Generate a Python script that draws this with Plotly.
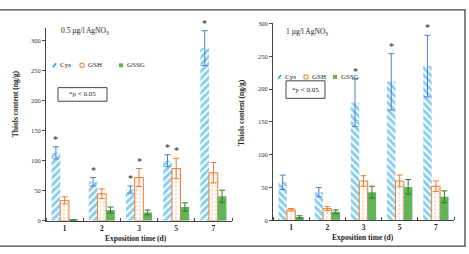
import plotly.graph_objects as go

days = ["1", "2", "3", "5", "7"]
series = ["Cys", "GSH", "GSSG"]

# Left panel: 0.5 ug/l AgNO3
left_cys = [113, 65, 52, 100, 287]
left_cys_err = [10, 7, 6, 10, 29]
left_gsh = [34, 45, 72, 87, 80]
left_gsh_err = [6, 8, 15, 17, 17]
left_gssg = [1, 18, 14, 23, 41]
left_gssg_err = [0.5, 5, 4, 7, 10]
left_sig_cys = [1, 1, 1, 1, 1]
left_sig_gsh = [0, 0, 1, 1, 0]
left_sig_gssg = [0, 0, 0, 0, 0]

# Right panel: 1 ug/l AgNO3
right_cys = [58, 43, 179, 211, 235]
right_cys_err = [11, 7, 36, 43, 47]
right_gsh = [16, 18, 60, 60, 52]
right_gsh_err = [2, 3, 8, 9, 8]
right_gssg = [5, 13, 43, 51, 36]
right_gssg_err = [2, 3, 9, 11, 9]
right_sig_cys = [0, 0, 1, 1, 1]
right_sig_gsh = [0, 0, 0, 0, 0]
right_sig_gssg = [0, 0, 0, 0, 0]

W, H = 469, 254
FONT = "Liberation Serif"
CYS_C = "#149FDC"
CYS_ERR = "#4F7FD6"
GSH_C = "#ED7D31"
GSH_DOT = "#F09A6E"
GSSG_C = "#62B35A"
GSSG_ERR = "#2F7A33"
BARGAP = 0.3


def px(x):
    return x / W


def py(y):
    return 1 - y / H


fig = go.Figure()
xs = list(range(len(days)))

panels = [
    dict(xa="x", ya="y", cys=left_cys, cyse=left_cys_err, gsh=left_gsh, gshe=left_gsh_err,
         gssg=left_gssg, gssge=left_gssg_err, hatch="/",
         sig=[left_sig_cys, left_sig_gsh, left_sig_gssg]),
    dict(xa="x2", ya="y2", cys=right_cys, cyse=right_cys_err, gsh=right_gsh, gshe=right_gsh_err,
         gssg=right_gssg, gssge=right_gssg_err, hatch="\\",
         sig=[right_sig_cys, right_sig_gsh, right_sig_gssg]),
]

for p in panels:
    fig.add_trace(go.Bar(
        x=xs, y=p["cys"], name="Cys", xaxis=p["xa"], yaxis=p["ya"], showlegend=False,
        marker=dict(color="white", line=dict(width=0),
                    pattern=dict(shape=p["hatch"], fgcolor=CYS_C, bgcolor="white",
                                 size=5, solidity=0.6)),
        error_y=dict(type="data", array=p["cyse"], color=CYS_ERR, thickness=1, width=3),
    ))
    fig.add_trace(go.Bar(
        x=xs, y=p["gsh"], name="GSH", xaxis=p["xa"], yaxis=p["ya"], showlegend=False,
        marker=dict(color="white", line=dict(width=1, color=GSH_C),
                    pattern=dict(shape=".", fgcolor=GSH_DOT, bgcolor="white",
                                 size=4, solidity=0.2)),
        error_y=dict(type="data", array=p["gshe"], color=GSH_C, thickness=1, width=3),
    ))
    fig.add_trace(go.Bar(
        x=xs, y=p["gssg"], name="GSSG", xaxis=p["xa"], yaxis=p["ya"], showlegend=False,
        marker=dict(color=GSSG_C, line=dict(width=0)),
        error_y=dict(type="data", array=p["gssge"], color=GSSG_ERR, thickness=1, width=3),
    ))

annotations = []
# significance asterisks
barw = (1 - BARGAP) / 3
for p in panels:
    vals = [(p["cys"], p["cyse"]), (p["gsh"], p["gshe"]), (p["gssg"], p["gssge"])]
    for k, (v, e) in enumerate(vals):
        for i in xs:
            if p["sig"][k][i]:
                annotations.append(dict(
                    x=i + (k - 1) * barw, y=v[i] + e[i], xref=p["xa"], yref=p["ya"],
                    text="*", showarrow=False, yanchor="bottom", yshift=0,
                    font=dict(family=FONT, size=10, color="#222")))

tick_font = dict(family=FONT, size=6.5, color="#333")
xtick_font = dict(family=FONT, size=7.5, color="#222")

common_x = dict(range=[-0.5, 4.5], tickvals=xs, ticktext=["<b>%s</b>" % d for d in days],
                tickfont=xtick_font, ticks="", showline=True, linecolor="#444", linewidth=1,
                showgrid=False, zeroline=False,
                minor=dict(tickvals=[i - 0.5 for i in xs] + [4.5], ticks="inside",
                           ticklen=3, tickcolor="#444", showgrid=False))
common_y = dict(showline=True, linecolor="#444", linewidth=1, showgrid=False, zeroline=False,
                ticks="outside", ticklen=3, tickcolor="#444", tickfont=tick_font,
                tickvals=[0, 50, 100, 150, 200, 250, 300])

fig.update_layout(
    width=W, height=H, margin=dict(l=0, r=0, t=0, b=0),
    paper_bgcolor="white", plot_bgcolor="white",
    barmode="group", bargap=BARGAP, bargroupgap=0,
    xaxis=dict(domain=[px(46), px(232)], anchor="y", **common_x),
    yaxis=dict(domain=[py(223), py(25)], range=[0, 320], anchor="x", **common_y),
    xaxis2=dict(domain=[px(273), px(454)], anchor="y2", **common_x),
    yaxis2=dict(domain=[py(222.5), py(20)], range=[0, 300], anchor="x2", **common_y),
)


def ann(x, y, text, size=7.5, bold=False, angle=0, xanchor="center", yanchor="middle"):
    t = "<b>%s</b>" % text if bold else text
    annotations.append(dict(x=px(x), y=py(y), xref="paper", yref="paper", text=t,
                            showarrow=False, textangle=angle, xanchor=xanchor, yanchor=yanchor,
                            font=dict(family=FONT, size=size, color="#222")))


ann(59, 28, "0.5 µg/l AgNO<sub>3</sub>", xanchor="left")
ann(284, 29, "1 µg/l AgNO<sub>3</sub>", xanchor="left")
ann(15, 103, "Thiols content (ng/g)", bold=True, angle=-90)
ann(242, 112, "Thiols content (ng/g)", bold=True, angle=-90)
ann(136, 241, "Exposition time (d)", bold=True)
ann(363, 240, "Exposition time (d)", bold=True)

shapes = []
# manual legends
for (lx, ly, gx, sx) in [(53, 63, 80, 119), (278, 75, 304, 333)]:
    shapes.append(dict(type="line", xref="paper", yref="paper",
                       x0=px(lx), y0=py(ly + 2), x1=px(lx + 3), y1=py(ly - 2),
                       line=dict(color=CYS_C, width=1.5)))
    ann(lx + 5, ly, "Cys", size=7, xanchor="left")
    shapes.append(dict(type="rect", xref="paper", yref="paper",
                       x0=px(gx), y0=py(ly + 2), x1=px(gx + 4), y1=py(ly - 2),
                       line=dict(color=GSH_C, width=1), fillcolor="white"))
    ann(gx + 5.5, ly, "GSH", size=7, xanchor="left")
    shapes.append(dict(type="rect", xref="paper", yref="paper",
                       x0=px(sx), y0=py(ly + 2), x1=px(sx + 4), y1=py(ly - 2),
                       line=dict(width=0), fillcolor=GSSG_C))
    ann(sx + 5.5, ly, "GSSG", size=7, xanchor="left")

# p-value boxes
for (x0, y0, x1, y1) in [(58, 86, 107, 100), (286, 79, 325, 97)]:
    shapes.append(dict(type="rect", xref="paper", yref="paper",
                       x0=px(x0), y0=py(y1), x1=px(x1), y1=py(y0),
                       line=dict(color="#444", width=1), fillcolor="white", layer="below"))
    ann((x0 + x1) / 2, (y0 + y1) / 2, "*p < 0.05", size=7)

# outer frame
shapes.append(dict(type="rect", xref="paper", yref="paper",
                   x0=-0.02, y0=py(249), x1=px(465), y1=py(6),
                   line=dict(color="#444", width=1.3)))

fig.update_layout(annotations=annotations, shapes=shapes)
fig.write_html("out.html")
